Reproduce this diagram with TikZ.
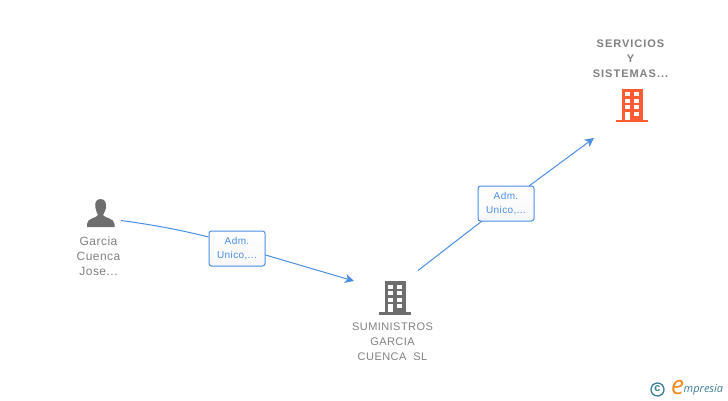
\documentclass[tikz,border=0pt]{standalone}
\usepackage{fontspec}
\setmainfont{Liberation Sans}
\newfontfamily\logofont{Open Sans}
\newfontfamily\spacedfont[LetterSpace=4]{Liberation Sans}
\newfontfamily\widefont[LetterSpace=9,BoldFont={Liberation Sans Bold}]{Liberation Sans}
\usepackage{color}
\usetikzlibrary{arrows.meta}
\definecolor{linkblue}{HTML}{4A8DE3}
\definecolor{labelgray}{HTML}{808080}
\definecolor{icongray}{HTML}{6E6E6E}
\definecolor{iconorange}{HTML}{FF5C33}
\definecolor{logoteal}{HTML}{3D7E96}
\definecolor{logoorange}{HTML}{F08A1D}
\tikzset{
  x=1pt,y=-1pt,
  link/.style={draw=linkblue,line width=1pt},
  linkarrow/.style={link,-{Stealth[length=9pt,width=9pt,inset=2.5pt]}},
  rolebox/.style={draw=linkblue,line width=1pt,rounded corners=2.5pt,top color=white,bottom color=white!97!black,
    text=linkblue,font=\spacedfont\fontsize{10}{14.5}\selectfont,align=center,minimum width=56pt,minimum height=35pt,inner sep=0pt},
  namelabel/.style={text=labelgray,font=\spacedfont\fontsize{11}{15}\selectfont,align=center,inner sep=0pt},
  pics/buildingicon/.style={code={
    \fill[#1] (-10.5,-16) rectangle (10.5,15);
    \fill[#1] (-16,15) rectangle (16,17.5);
    \foreach \wy in {-12.5,-6,0.5}{
      \fill[white] (-7,\wy) rectangle (-2,\wy+4);
      \fill[white] (2,\wy) rectangle (7,\wy+4);
    }
    \fill[white] (2,7) rectangle (7,11);
    \fill[white] (-7,7) rectangle (-2,15);
  }}
}
\begin{document}
\begin{tikzpicture}
  \useasboundingbox (0,0) rectangle (728,400);
  \pic at (395,297) {buildingicon=icongray};
  \pic at (632,104.5) {buildingicon=iconorange};
  \fill[icongray] (100.5,199) .. controls (96,199) and (94.5,203) .. (95.5,208)
    .. controls (96,211) and (97,213) .. (98,215)
    .. controls (97,218) and (87,218) .. (87,224) -- (87,227) -- (114.5,227) -- (114.5,224)
    .. controls (114.5,218) and (104,218) .. (103,215)
    .. controls (104,213) and (105.5,211) .. (106,208)
    .. controls (106.5,203) and (105,199) .. (100.5,199) -- cycle;
  \node[namelabel,font=\spacedfont\fontsize{12}{15}\selectfont] (garcia) at (98.5,256) {Garcia\\Cuenca\\Jose...};
  \node[namelabel] (suministros) at (392.5,341.5) {SUMINISTROS\\GARCIA\\CUENCA\ \ SL};
  \node[namelabel,font=\widefont\fontsize{11}{15}\selectfont\bfseries] (servicios) at (630.5,58.5) {SERVICIOS\\Y\\SISTEMAS...};
  \node[rolebox] (roleone) at (237,248.5) {Adm.\\Unico,...};
  \node[rolebox] (roletwo) at (506,203.5) {Adm.\\Unico,...};
  \coordinate (personout) at (121,220.5);
  \coordinate (midin) at (354,281);
  \coordinate (midout) at (418,270.5);
  \coordinate (topin) at (594,138);
  \draw[link] (personout) .. controls (155,225) and (185,231) .. (roleone.west |- 0,237);
  \draw[linkarrow] (roleone.east |- 0,255) -- (midin);
  \draw[link] (midout) -- (482,221);
  \draw[linkarrow] (529,186) -- (topin);
  \draw[logoteal,line width=1.3pt] (657.5,389.5) circle [radius=6.5];
  \node[text=logoteal,font=\fontsize{11}{11}\selectfont\bfseries,inner sep=0pt] (logoc) at (657.5,389) {c};
  \node[text=logoorange,font=\logofont\fontsize{26}{26}\selectfont\itshape,inner sep=0pt] (logoe) at (677.5,388) {e};
  \node[text=logoteal,font=\logofont\fontsize{11}{11}\selectfont\itshape,anchor=west,inner sep=0pt] (logotext) at (683.5,389.5) {mpresia};
\end{tikzpicture}
\end{document}
